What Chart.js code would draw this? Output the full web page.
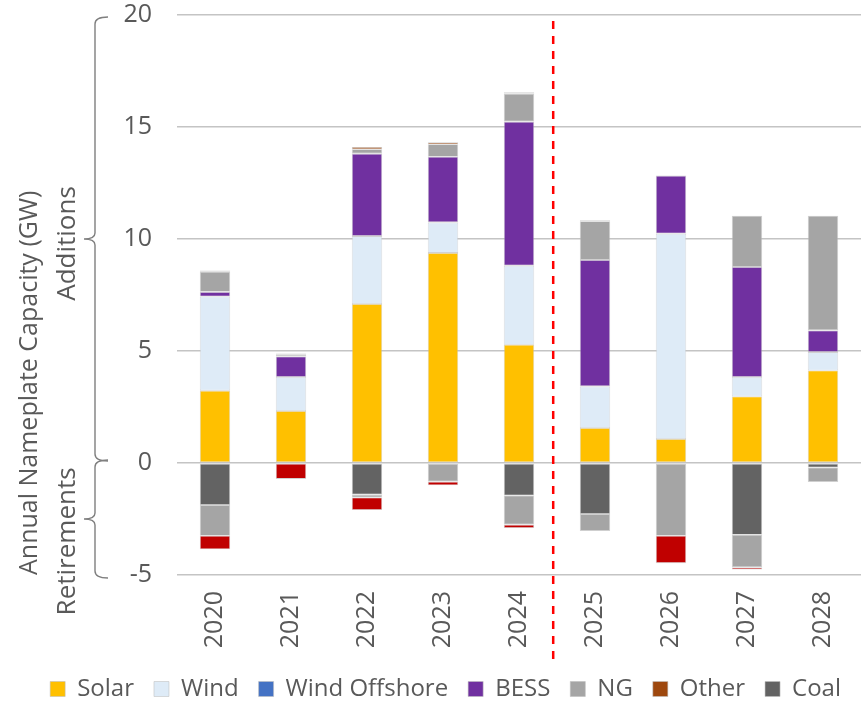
<!DOCTYPE html>
<html>
<head>
<meta charset="utf-8">
<script src="https://cdn.jsdelivr.net/npm/chart.js@4"></script>
<style>
  html, body { margin: 0; padding: 0; background: #ffffff; }
  #wrap { width: 864px; height: 702px; }
</style>
</head>
<body>
<div id="wrap"><canvas id="chart" width="864" height="702"></canvas></div>
<script>
// Annual nameplate capacity additions (positive) and retirements (negative), GW
const years = ['2020', '2021', '2022', '2023', '2024', '2025', '2026', '2027', '2028'];

const solar        = [3.23, 2.32, 7.10, 9.38, 5.28, 1.56, 1.07, 2.97, 4.13];
const wind         = [4.20, 1.52, 3.03, 1.36, 3.53, 1.86, 9.17, 0.87, 0.82];
const windOffshore = [0, 0, 0, 0, 0, 0, 0, 0, 0];
const bess         = [0.21, 0.92, 3.68, 2.93, 6.43, 5.64, 2.59, 4.91, 0.97];
const ngAdded      = [0.90, 0.09, 0.20, 0.56, 1.25, 1.73, 0, 2.29, 5.12];
const otherAdded   = [0.05, 0.04, 0.10, 0.09, 0.06, 0.05, 0, 0, 0];

const coalRetired  = [-1.88, 0, -1.41, 0, -1.45, -2.28, 0, -3.20, -0.20];
const ngRetired    = [-1.37, 0, -0.13, -0.83, -1.30, -0.76, -3.25, -1.46, -0.65];
const oilRetired   = [-0.60, -0.71, -0.56, -0.16, -0.15, 0, -1.22, -0.10, 0];

const yTicks = [20, 15, 10, 5, 0, -5];

// historical / projected split, in category units
const dividerAt = 4.45;

const GRID = '#c4c4c4';
const TEXT = '#595959';
const FONT = "'Open Sans', 'DejaVu Sans', sans-serif";

Chart.defaults.font.family = FONT;
Chart.defaults.color = TEXT;

function series(label, data, color, extra) {
  return Object.assign({
    label: label,
    data: data,
    backgroundColor: color,
    borderColor: 'rgba(190,190,190,0.7)',
    borderWidth: 0.8,
    borderSkipped: false,
    categoryPercentage: 1.0,
    barPercentage: 0.4
  }, extra || {});
}

// dashed divider between actual and projected years
const dividerPlugin = {
  id: 'divider',
  afterDatasetsDraw(chart, args, opts) {
    const {ctx, chartArea, scales: {x}} = chart;
    const px = x.getPixelForValue(opts.at);
    ctx.save();
    ctx.strokeStyle = '#ff0000';
    ctx.lineWidth = 2.5;
    ctx.setLineDash([8, 7]);
    ctx.beginPath();
    ctx.moveTo(px, chartArea.top + 6);
    ctx.lineTo(px, chartArea.bottom + 90);
    ctx.stroke();
    ctx.restore();
  }
};

// curly braces and labels marking the additions / retirements ranges
const bracePlugin = {
  id: 'braces',
  afterDraw(chart, args, opts) {
    const {ctx, scales: {y}} = chart;
    const xLine = opts.x, xTip = opts.x - 11, xHook = opts.x + 13;

    function brace(v0, v1, vMid, inset) {
      const y0 = y.getPixelForValue(v0) - inset;
      const y1 = y.getPixelForValue(v1) + inset;
      const ym = y.getPixelForValue(vMid);
      ctx.beginPath();
      ctx.moveTo(xHook, y0);
      ctx.quadraticCurveTo(xLine, y0, xLine, y0 + 7);
      ctx.lineTo(xLine, ym - 6);
      ctx.quadraticCurveTo(xLine, ym, xTip, ym);
      ctx.quadraticCurveTo(xLine, ym, xLine, ym + 6);
      ctx.lineTo(xLine, y1 - 7);
      ctx.quadraticCurveTo(xLine, y1, xHook, y1);
      ctx.stroke();
    }

    ctx.save();
    ctx.strokeStyle = '#7f7f7f';
    ctx.lineWidth = 1.4;
    brace(20, 0, 10, -2);
    brace(0, -5, -2.5, 3);

    ctx.fillStyle = TEXT;
    ctx.font = opts.font;
    ctx.textAlign = 'center';
    ctx.textBaseline = 'middle';
    opts.labels.forEach(l => {
      ctx.save();
      ctx.translate(opts.textX, y.getPixelForValue(l.at));
      ctx.rotate(-Math.PI / 2);
      ctx.fillText(l.text, 0, 0);
      ctx.restore();
    });
    ctx.restore();
  }
};

new Chart(document.getElementById('chart'), {
  type: 'bar',
  data: {
    labels: years,
    datasets: [
      series('Solar', solar, '#ffc000'),
      series('Wind', wind, '#deebf7'),
      series('Wind Offshore', windOffshore, '#4472c4'),
      series('BESS', bess, '#7030a0'),
      series('NG', ngAdded, '#a5a5a5'),
      series('Other', otherAdded, '#9e480e'),
      series('Coal', coalRetired, '#636363'),
      series('NG retired', ngRetired, '#a5a5a5', {legendHidden: true}),
      series('Oil retired', oilRetired, '#c00000', {legendHidden: true})
    ]
  },
  options: {
    responsive: false,
    animation: false,
    layout: { padding: { top: 15, right: 3, left: 0, bottom: -9 } },
    scales: {
      x: {
        stacked: true,
        grid: { display: false, drawTicks: false },
        border: { display: false },
        ticks: {
          minRotation: 90,
          maxRotation: 90,
          padding: 16,
          color: TEXT,
          font: { size: 25 }
        },
        afterFit: axis => {
          axis.height = 82;
          axis.paddingLeft = 0;
          axis.paddingRight = 0;
        }
      },
      y: {
        stacked: true,
        min: -5,
        max: 20,
        afterBuildTicks: axis => { axis.ticks = yTicks.map(v => ({value: v})); },
        grid: { color: GRID, lineWidth: 1.5, drawTicks: false },
        border: { display: false },
        ticks: { padding: 25, color: TEXT, font: { size: 25 } },
        title: {
          display: true,
          text: 'Annual Nameplate Capacity (GW)',
          align: 'start',
          color: TEXT,
          font: { size: 25 },
          padding: { top: 14.5, bottom: 0 }
        },
        afterFit: axis => {
          axis.width = 177;
          axis.paddingTop = 0;
          axis.paddingBottom = 0;
        }
      }
    },
    plugins: {
      legend: {
        position: 'bottom',
        align: 'end',
        labels: {
          boxWidth: 15,
          boxHeight: 15,
          padding: 20,
          color: TEXT,
          font: { size: 24 },
          filter: (item, data) => !data.datasets[item.datasetIndex].legendHidden
        }
      },
      tooltip: { enabled: false },
      divider: { at: dividerAt },
      braces: {
        x: 95,
        textX: 68,
        font: "26px 'Open Sans', 'DejaVu Sans', sans-serif",
        labels: [
          { text: 'Additions', at: 9.8 },
          { text: 'Retirements', at: -3.5 }
        ]
      }
    }
  },
  plugins: [dividerPlugin, bracePlugin]
});
</script>
</body>
</html>
